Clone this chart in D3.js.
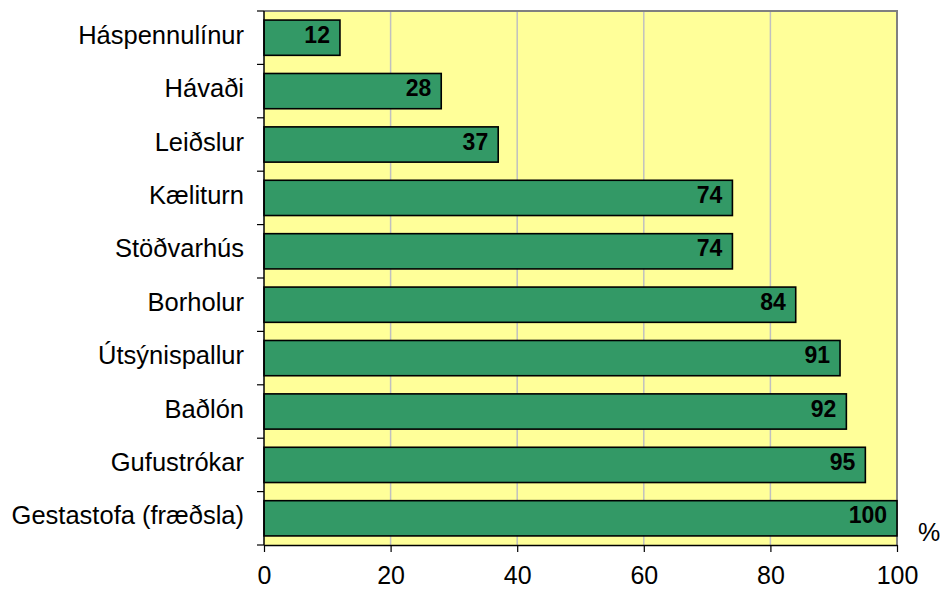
<!DOCTYPE html>
<html>
<head>
<meta charset="utf-8">
<script src="https://cdn.jsdelivr.net/npm/d3@7"></script>
<style>
  body { margin: 0; background: #fff; }
  svg text { font-family: Arial, "Liberation Sans", sans-serif; fill: #000; }
</style>
</head>
<body>
<svg id="figure"></svg>
<script>
// data, top to bottom
const categories = [
    "Háspennulínur", "Hávaði", "Leiðslur", "Kæliturn", "Stöðvarhús",
    "Borholur", "Útsýnispallur", "Baðlón", "Gufustrókar", "Gestastofa (fræðsla)"
];
const values = [12, 28, 37, 74, 74, 84, 91, 92, 95, 100];
const xTicks = [0, 20, 40, 60, 80, 100];
const unitLabel = "%";

const W = 941, H = 591;
const margin = {top: 11, right: 44, bottom: 46, left: 264};
const width = W - margin.left - margin.right;
const height = H - margin.top - margin.bottom;

const svg = d3.select("#figure")
    .attr("width", W)
    .attr("height", H)
    .append("g")
    .attr("transform", "translate(" + margin.left + "," + margin.top + ")");

const x = d3.scaleLinear().domain([0, 100]).range([0, width]);
const y = d3.scaleBand()
    .domain(categories)
    .range([0, height])
    .paddingInner(0.34)
    .paddingOuter(0.17);

// plot background
svg.append("rect")
    .attr("width", width).attr("height", height)
    .attr("fill", "#FFFF99");

// grid
svg.append("g").selectAll("line")
    .data(xTicks.filter(d => d > 0 && d < 100))
    .join("line")
    .attr("x1", d => x(d)).attr("x2", d => x(d))
    .attr("y1", 0).attr("y2", height)
    .attr("stroke", "#c0c0c0").attr("stroke-width", 1.5);

// grey frame top / right
svg.append("path")
    .attr("d", "M0,0H" + width + "V" + height)
    .attr("fill", "none")
    .attr("stroke", "#808080").attr("stroke-width", 2);

// bars
svg.append("g").selectAll("rect")
    .data(values)
    .join("rect")
    .attr("x", x(0))
    .attr("y", (d, i) => y(categories[i]))
    .attr("width", d => x(d) - x(0))
    .attr("height", y.bandwidth())
    .attr("fill", "#339966")
    .attr("stroke", "#000").attr("stroke-width", 1.6);

// value labels
svg.append("g").selectAll("text")
    .data(values)
    .join("text")
    .attr("x", d => x(d) - 10)
    .attr("y", (d, i) => y(categories[i]) + y.bandwidth() / 2 + 5)
    .attr("text-anchor", "end")
    .attr("font-size", 23)
    .attr("font-weight", "bold")
    .text(d => d);

// y axis: line, ticks at category boundaries, labels
const step = y.step();
svg.append("line")
    .attr("x1", 0).attr("x2", 0).attr("y1", 0).attr("y2", height)
    .attr("stroke", "#000").attr("stroke-width", 1.5);
svg.append("g").selectAll("line")
    .data(d3.range(categories.length + 1))
    .join("line")
    .attr("x1", -7).attr("x2", 0)
    .attr("y1", i => i * step).attr("y2", i => i * step)
    .attr("stroke", "#000").attr("stroke-width", 1.2);
svg.append("g").selectAll("text")
    .data(categories)
    .join("text")
    .attr("x", -20)
    .attr("y", d => y(d) + y.bandwidth() / 2 + 6)
    .attr("text-anchor", "end")
    .attr("font-size", 25.5)
    .text(d => d);

// x axis
const xAxis = svg.append("g")
    .attr("transform", "translate(0," + height + ")")
    .call(d3.axisBottom(x).tickValues(xTicks).tickSize(7).tickPadding(14).tickSizeOuter(0));
xAxis.select(".domain").attr("stroke", "#000").attr("stroke-width", 1.5);
xAxis.selectAll(".tick line").attr("stroke", "#000").attr("stroke-width", 1.2);
xAxis.selectAll(".tick text")
    .attr("font-size", 25)
    .attr("font-family", "Arial, 'Liberation Sans', sans-serif")
    .attr("fill", "#000");

svg.append("text")
    .attr("x", width + 21)
    .attr("y", height - 4)
    .attr("font-size", 25)
    .text(unitLabel);
</script>
</body>
</html>
